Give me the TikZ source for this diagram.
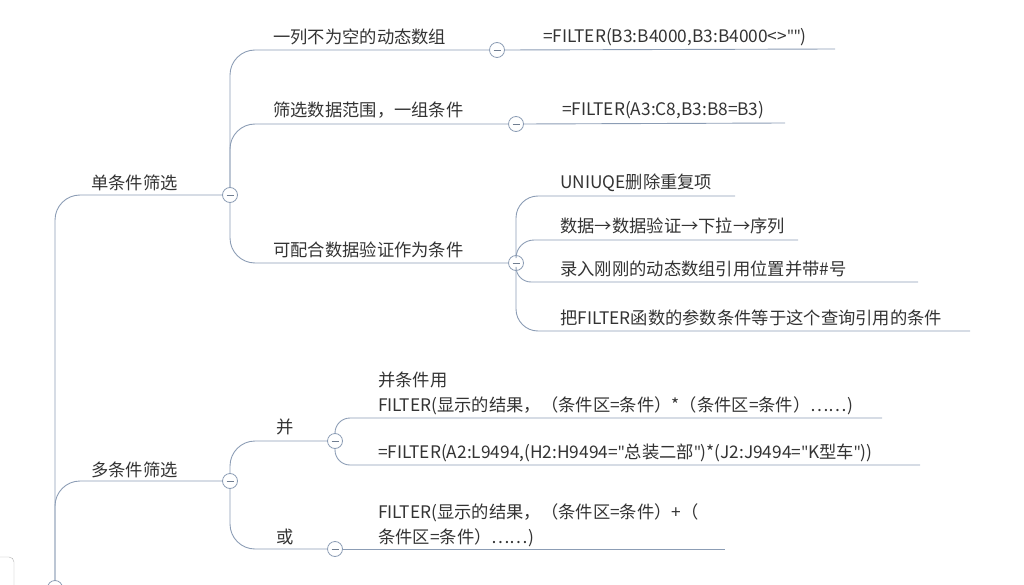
\documentclass[tikz,border=0pt]{standalone}
\usepackage{fontspec}
\setmainfont{Noto Sans CJK SC}[Ligatures=Common]
\newfontfamily\latq{Open Sans}
\newcommand{\dq}{{\latq\symbol{34}}}
\begin{document}
\begin{tikzpicture}[x=1pt,y=-1pt,
  ln/.style={draw=lc,line width=0.9pt},
  cb/.style={circle,draw=lc,fill=white,line width=0.8pt,minimum size=15pt,inner sep=0pt,
    path picture={\draw[lc!80!black,line width=0.8pt] ([xshift=-3.5pt]path picture bounding box.center)--([xshift=3.5pt]path picture bounding box.center);}},
  tx/.style={anchor=base west,text=tc,font=\fontsize{17.3pt}{20pt}\selectfont,inner sep=0pt},
  tx2/.style={anchor=base west,text=tc,font=\fontsize{17.3pt}{25pt}\selectfont,inner sep=0pt,align=left}]
\definecolor{lc}{HTML}{8C9DB5}
\definecolor{tc}{HTML}{333333}
\useasboundingbox (0,0) rectangle (1024,585);
\draw[gray!60,fill=white,rounded corners=5pt] (-10,557) rectangle (14,600);
% root
\node[cb] (r) at (55,588) {};
\node[cb] (a) at (230,195) {};
\node[cb] (b) at (230,481) {};
\draw[ln,rounded corners=25pt] (r.north) |- (a.west);
\draw[ln,rounded corners=25pt] (r.north) |- (b.west);
\node[tx] (ta) at (91,190) {单条件筛选};
\node[tx] (tb) at (91,476) {多条件筛选};
% single
\node[cb] (a1) at (497,50) {};
\node[cb] (a2) at (516,124) {};
\node[cb] (a3) at (516,263) {};
\draw[ln,rounded corners=25pt] (a.north) |- (a1.west);
\draw[ln,rounded corners=25pt] (a.north) |- (a2.west);
\draw[ln,rounded corners=25pt] (a.south) |- (a3.west);
\node[tx] at (273,44) {一列不为空的动态数组};
\node[tx] at (273,117) {筛选数据范围，一组条件};
\node[tx] at (273,256) {可配合数据验证作为条件};
\coordinate (e1) at (835,49);
\coordinate (e2) at (785,123);
\draw[ln] (a1.east) -- (e1);
\draw[ln] (a2.east) -- (e2);
\node[tx] at (543,43) {=FILTER(B3:B4000,B3:B4000<>\dq\dq)};
\node[tx] at (562,116) {=FILTER(A3:C8,B3:B8=B3)};
% a3 children
\coordinate (c1) at (735,196);
\coordinate (c2) at (798,240);
\coordinate (c3) at (918,282);
\coordinate (c4) at (970,331);
\draw[ln,rounded corners=22pt] (a3.north) |- (c1);
\draw[ln,rounded corners=18pt] (a3.north) |- (c2);
\draw[ln,rounded corners=15pt] (a3.south) |- (c3);
\draw[ln,rounded corners=22pt] (a3.south) |- (c4);
\node[tx] at (560,189) {UNIUQE删除重复项};
\node[tx] at (560,233) {数据→数据验证→下拉→序列};
\node[tx] at (560,275) {录入刚刚的动态数组引用位置并带\#号};
\node[tx] at (560,324) {把FILTER函数的参数条件等于这个查询引用的条件};
% multi
\node[cb] (b1) at (335,441) {};
\node[cb] (b2) at (335,549) {};
\draw[ln,rounded corners=25pt] (b.north) |- (b1.west);
\draw[ln,rounded corners=25pt] (b.south) |- (b2.west);
\node[tx] at (276,433) {并};
\node[tx] at (276,543) {或};
\coordinate (d1) at (882,418);
\coordinate (d2) at (920,465);
\draw[ln,rounded corners=15pt] (b1.north) |- (d1);
\draw[ln,rounded corners=15pt] (b1.south) |- (d2);
\node[tx2] at (378,411) {并条件用\\FILTER(显示的结果，（条件区=条件）*（条件区=条件）……)};
\node[tx] at (378,458) {=FILTER(A2:L9494,(H2:H9494=\dq 总装二部\dq)*(J2:J9494=\dq K型车\dq))};
\coordinate (d3) at (725,549);
\draw[ln] (b2.east) -- (d3);
\node[tx2] at (378,543) {FILTER(显示的结果，（条件区=条件）+（\\条件区=条件）……)};
\end{tikzpicture}
\end{document}
